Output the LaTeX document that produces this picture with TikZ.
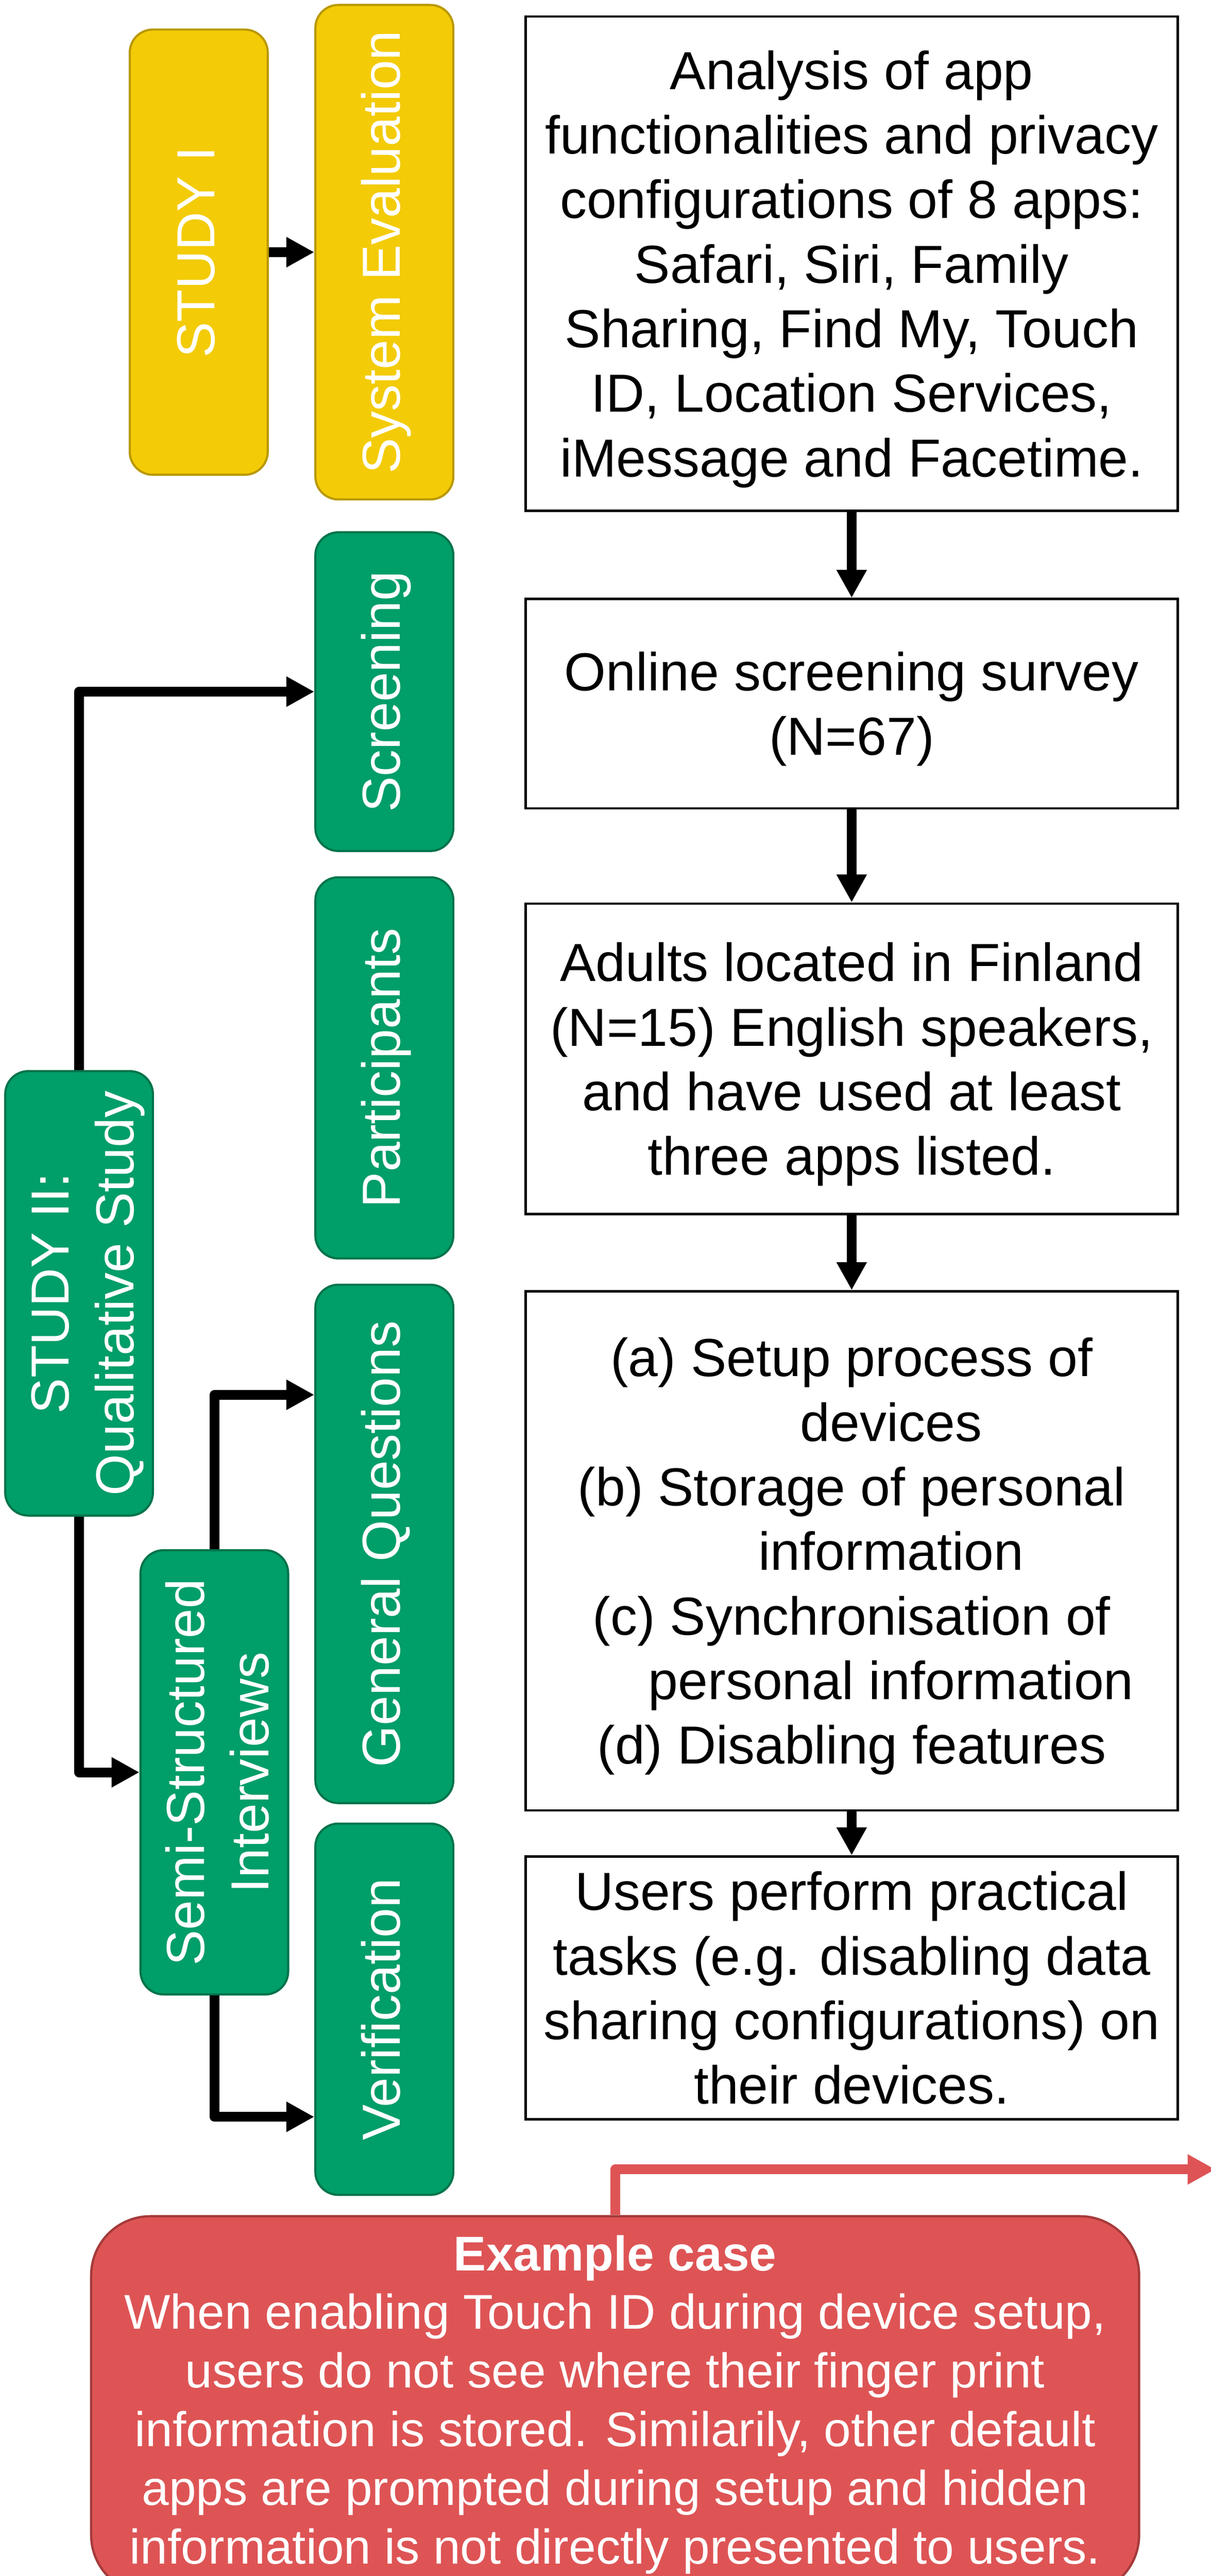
\documentclass[tikz,border=0pt]{standalone}
\usepackage{fontspec}
\setmainfont{Liberation Sans}
\usetikzlibrary{arrows.meta}
\definecolor{yfill}{RGB}{243,203,6}
\definecolor{yline}{RGB}{184,152,0}
\definecolor{gfill}{RGB}{0,158,104}
\definecolor{gline}{RGB}{0,115,74}
\definecolor{rfill}{RGB}{222,84,85}
\definecolor{rline}{RGB}{165,58,58}
\newcommand{\bigfont}{\fontsize{32.6pt}{39.3pt}\selectfont}
\newcommand{\redfont}{\fontsize{29.7pt}{35.7pt}\selectfont}
\newcommand{\tophs}{\rule{0pt}{31pt}}
\newcommand{\bothh}{\rule[-7.5pt]{0pt}{0pt}}
\newcommand{\rotone}[1]{\rotatebox{90}{\rule[-7.4pt]{0pt}{34pt}#1}}
\newcommand{\rottwo}[2]{\rotatebox{90}{\begin{tabular}{@{}c@{}}\rule{0pt}{38.8pt}#1\\#2\end{tabular}}}
\tikzset{
  ybox/.style={draw=yline, fill=yfill, line width=1.3pt, rounded corners=14pt, text=white, font=\bigfont, inner sep=0pt},
  gbox/.style={draw=gline, fill=gfill, line width=1.3pt, rounded corners=14pt, text=white, font=\bigfont, inner sep=0pt},
  tbox/.style={draw=black, fill=white, line width=1.4pt, font=\bigfont, align=center, inner sep=0pt, minimum width=397pt},
  rbox/.style={draw=rline, fill=rfill, line width=1.4pt, rounded corners=36pt, text=white, font=\redfont, align=center, inner sep=0pt},
  conn/.style={draw=black, line width=5.9pt, -{Triangle[width=17.3pt,length=17pt]}, line join=round},
  rconn/.style={draw=rfill, line width=5.9pt, -{Triangle[width=17.3pt,length=17pt]}, line join=round}
}
\begin{document}
\begin{tikzpicture}[x=1pt,y=-1pt]
\useasboundingbox (0,0) rectangle (737,1568);
% yellow boxes
\node[ybox, minimum width=84pt, minimum height=271pt] (s1) at (121,153.5) {\rotone{STUDY I}};
\node[ybox, minimum width=84pt, minimum height=301pt] (se) at (234,153.5) {\rotone{System Evaluation}};
% green boxes
\node[gbox, minimum width=84pt, minimum height=194pt] (scr) at (234,421) {\rotone{Screening}};
\node[gbox, minimum width=84pt, minimum height=232pt] (par) at (234,650) {\rotone{Participants}};
\node[gbox, minimum width=84pt, minimum height=315.5pt] (gq) at (234,939.75) {\rotone{General Questions}};
\node[gbox, minimum width=84pt, minimum height=226pt] (ver) at (234,1223) {\rotone{Verification}};
\node[gbox, minimum width=85pt, minimum height=270.5pt] (s2) at (48.15,787.25) {\rottwo{STUDY II:}{Qualitative Study}};
\node[gbox, minimum width=85pt, minimum height=270.4pt] (semi) at (130.5,1078.8) {\rottwo{Semi-Structured}{Interviews}};
% text boxes
\node[tbox, minimum height=301pt] (ana) at (518.5,160.5) {\tophs Analysis of app\\functionalities and privacy\\configurations of 8 apps:\\Safari, Siri, Family\\Sharing, Find My, Touch\\ID, Location Services,\\iMessage and Facetime.\bothh};
\node[tbox, minimum height=127.4pt] (onl) at (518.5,428.3) {\tophs Online screening survey\\(N=67)\bothh};
\node[tbox, minimum height=189pt] (adu) at (518.5,644.5) {\tophs Adults located in Finland\\(N=15) English speakers,\\and have used at least\\three apps listed.\bothh};
\node[tbox, minimum height=316pt] (gen) at (518.5,944) {\tophs(a) Setup process of\\\hspace*{48pt}devices\\(b) Storage of personal\\\hspace*{48pt}information\\(c) Synchronisation of\\\hspace*{48pt}personal information\\(d) Disabling features\bothh};
\node[tbox, minimum height=160pt] (usr) at (518.5,1210) {\tophs Users perform practical\\tasks (e.g. disabling data\\sharing configurations) on\\their devices.\bothh};
% red box
\node[rbox, minimum width=638pt, minimum height=230pt] (ex) at (374.5,1464) {\rule{0pt}{28.2pt}\textbf{Example case}\\When enabling Touch ID during device setup,\\users do not see where their finger print\\information is stored. Similarily, other default\\apps are prompted during setup and hidden\\information is not directly presented to users.\rule[-13.6pt]{0pt}{0pt}};
% connectors
\draw[conn] (s1.east) -- (se.west);
\draw[conn] (ana.south) -- (onl.north);
\draw[conn] (onl.south) -- (adu.north);
\draw[conn] (adu.south) -- (gen.north);
\draw[conn] (gen.south) -- (usr.north);
\draw[conn] (s2.north) |- (scr.west);
\draw[conn] (s2.south) |- (semi.west);
\draw[conn] (semi.north) |- ([yshift=90.75pt]gq.west);
\draw[conn] (semi.south) |- ([yshift=-65.5pt]ver.west);
\coordinate (redend) at (740,1320.5);
\draw[rconn] (ex.north) |- (redend);
\end{tikzpicture}
\end{document}
